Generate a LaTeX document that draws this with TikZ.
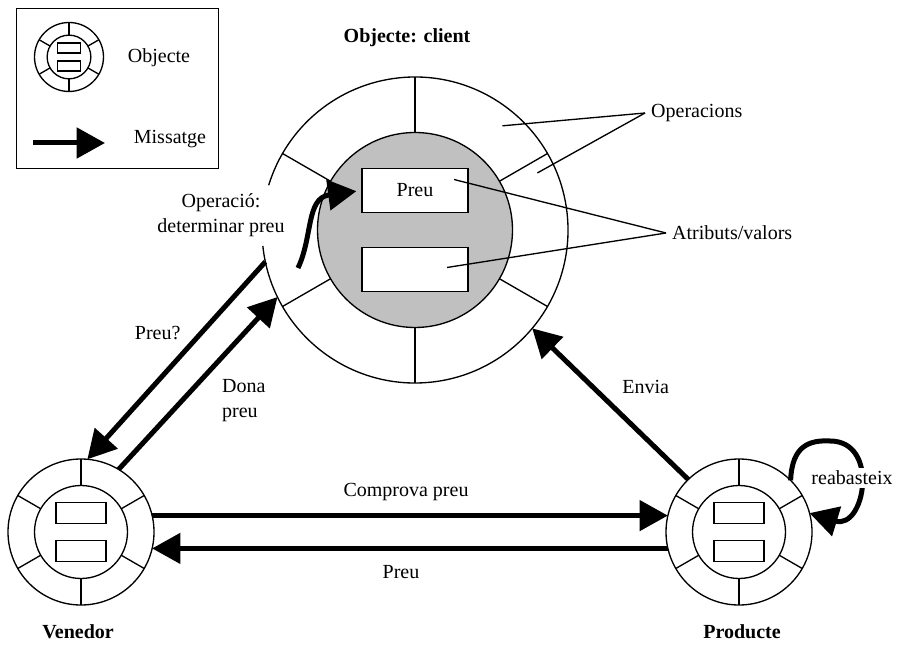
\documentclass[tikz,border=0pt]{standalone}
\usepackage{fontspec}
\setmainfont{Liberation Serif}
\usepackage{tikz}
\usetikzlibrary{arrows.meta}
\tikzset{>={Triangle[length=17pt,width=18pt]}}
\usetikzlibrary{calc,positioning}
\definecolor{grisclar}{RGB}{192,192,192}

% anella, nucli i dues caselles d'un objecte petit
\newcommand{\objinterior}[2]{%
  \begin{scope}[shift={(#1.center)},scale=#2]
    \draw (0,0) circle (46.5);
    \foreach \a in {30,90,...,330}
      \draw (\a:46.5) -- (\a:73);
    \draw (-25,8.5) rectangle (25,29.5);
    \draw (-25,-29.5) rectangle (25,-8.5);
  \end{scope}}

\begin{document}
\begin{tikzpicture}[x=0.6pt,y=0.6pt,line width=0.8pt,
    font=\fontsize{12}{15}\selectfont,
    msg/.style={->,line width=3pt},
    obj/.style={circle,draw,inner sep=0,outer sep=0,minimum size=87.6pt},
    caixa/.style={draw,fill=white,inner sep=0,minimum width=63.6pt,minimum height=26.4pt},
    etiq/.style={align=center},
    nom/.style={font=\fontsize{12}{15}\selectfont\bfseries}]
    \useasboundingbox (0,0) rectangle (897,644);

    % llegenda
    \node[draw,inner sep=0,minimum width=121.2pt,minimum height=96pt,anchor=north west] (lleg) at (16,636) {};
    \node[obj,minimum size=41.4pt] (lobj) at (69,587) {};
    \objinterior{lobj}{0.47}
    \node[etiq] (lobjtxt) at (159,586) {Objecte};
    \coordinate (m0) at (33,501);
    \coordinate (m1) at (105,501);
    \draw[msg] (m0) -- (m1);
    \node[etiq] (lmsg) at (170,505) {Missatge};

    % objecte client
    \node[circle,inner sep=0,outer sep=0,minimum size=183.6pt] (big) at (415,414) {};
    \draw ([shift={(186:153)}]big.center) arc[start angle=186,end angle=523,radius=153];
    \draw[fill=grisclar] (big.center) circle (97.5);
    \foreach \a in {30,90,...,330}
      \draw ([shift={(\a:97.5)}]big.center) -- ([shift={(\a:153)}]big.center);
    \node[caixa] (preu) at ($(big.center)+(0,39.5)$) {Preu};
    \node[caixa] (buit) at ($(big.center)+(0,-39.5)$) {};
    \node[nom] (titol) at (407,606) {Objecte: client};
    \node[etiq] (oper) at (221,429) {Operació:\\determinar preu};
    \coordinate (opcua) at (298,376);
    \draw[msg,shorten >=3pt] (opcua) .. controls (313,408) and (306,446) .. (preu.west);

    \node[anchor=west] (ops) at (645,531) {Operacions};
    \node[anchor=west] (atr) at (666,411) {Atributs/valors};
    \draw (ops.west) -- ($(big.center)+(50:136)$);
    \draw (ops.west) -- ($(big.center)+(25:135)$);
    \draw (atr.west) -- ($(preu.center)+(39,11)$);
    \draw (atr.west) -- ($(buit.center)+(32,2)$);

    % venedor i producte
    \node[obj] (ven) at (81,112) {};
    \objinterior{ven}{1}
    \node[obj] (prod) at (739,112) {};
    \objinterior{prod}{1}
    \node[nom] (venlbl) at (78,12) {Venedor};
    \node[nom] (prodlbl) at (742,12) {Producte};

    % missatges
    \draw[msg] (big.192) -- (ven.85) node[etiq,pos=0.47,shift={(-24,22)}] (pq) {Preu?};
    \draw[msg] (ven.59) -- (big.206) node[align=left,pos=0.58,shift={(33,-31)}] (dp) {Dona\\preu};
    \draw[msg] (prod.134) -- (big.320) node[etiq,pos=0.44,shift={(26,26)}] (env) {Envia};
    \draw[msg] (ven.13) -- (prod.167) node[etiq,midway,shift={(-4,24)}] (cp) {Comprova preu};
    \draw[msg] (prod.193) -- (ven.-13) node[etiq,midway,shift={(-9,-24)}] (pr) {Preu};
    \draw[msg] (prod.45) .. controls (792,199) and (810,204) .. (830,203)
      .. controls (880,203) and (865,114) .. (prod.15);
    \node[fill=white,inner sep=2pt] (reab) at (852,166) {reabasteix};
\end{tikzpicture}
\end{document}
